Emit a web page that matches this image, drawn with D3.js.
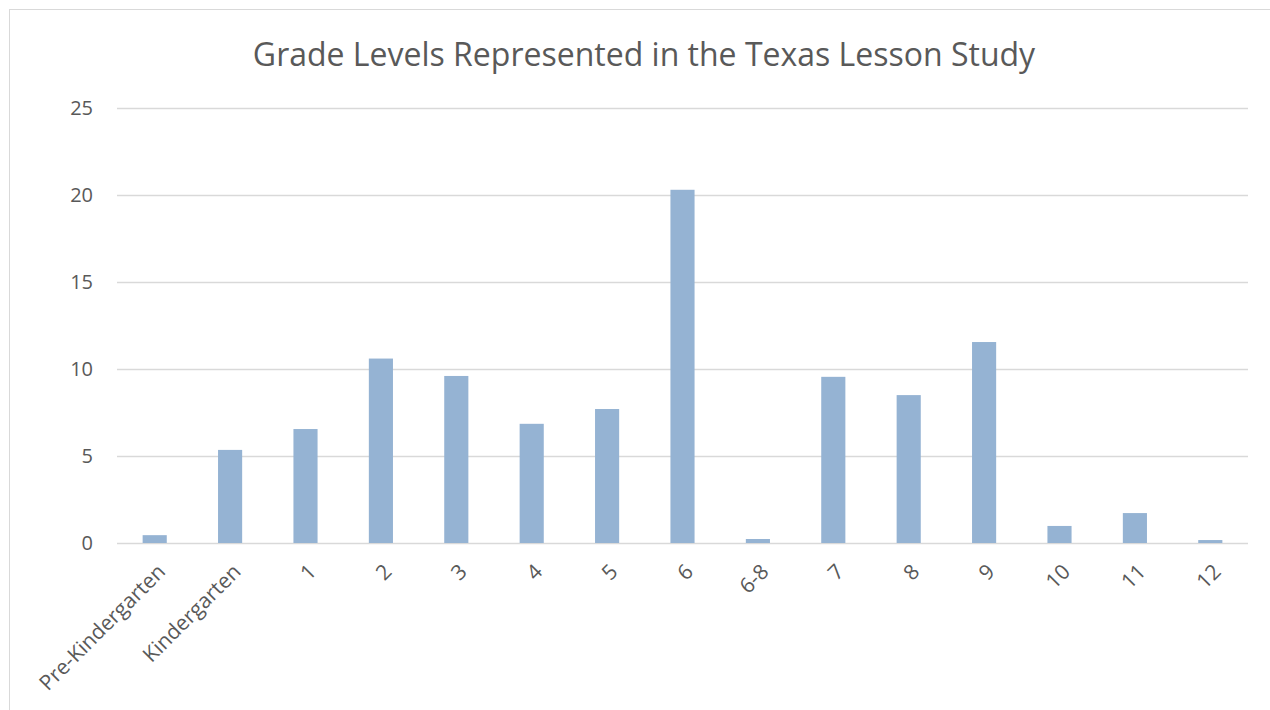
<!DOCTYPE html>
<html>
<head>
<meta charset="utf-8">
<script src="https://cdn.jsdelivr.net/npm/d3@7"></script>
<style>
  body { margin: 0; background: #fff; }
  text { font-family: "Open Sans", "Noto Sans", sans-serif; fill: #595959; }
</style>
</head>
<body>
<script>
var grades = ['Pre-Kindergarten', 'Kindergarten', '1', '2', '3', '4', '5', '6', '6-8', '7', '8', '9', '10', '11', '12'];
var counts = [0.45, 5.35, 6.55, 10.6, 9.6, 6.85, 7.7, 20.3, 0.23, 9.55, 8.5, 11.55, 0.98, 1.72, 0.17];
var yTicks = [0, 5, 10, 15, 20, 25];

var width = 1270, height = 710;
var margin = {top: 108, right: 22, bottom: 167, left: 117};

var svg = d3.select('body').append('svg')
    .attr('width', width)
    .attr('height', height);

// chart frame
svg.append('rect')
    .attr('x', 9.5).attr('y', 9.5)
    .attr('width', 1300).attr('height', 800)
    .attr('fill', 'none')
    .attr('stroke', '#d9d9d9')
    .attr('stroke-width', 1);

var x = d3.scaleBand()
    .domain(grades)
    .range([margin.left, width - margin.right])
    .paddingInner(0.68)
    .paddingOuter(0.34);

var y = d3.scaleLinear()
    .domain([0, 25])
    .range([height - margin.bottom, margin.top]);

// gridlines
svg.append('g')
    .attr('class', 'grid')
    .selectAll('line')
    .data(yTicks)
    .enter().append('line')
    .attr('x1', margin.left)
    .attr('x2', width - margin.right)
    .attr('y1', function(d) { return y(d) + 0.5; })
    .attr('y2', function(d) { return y(d) + 0.5; })
    .attr('stroke', '#d9d9d9')
    .attr('stroke-width', 1.3);

// y axis labels
var yAxis = d3.axisLeft(y).tickValues(yTicks).tickSize(0).tickPadding(24);
svg.append('g')
    .attr('transform', 'translate(' + margin.left + ',0)')
    .call(yAxis)
    .call(function(g) { g.select('.domain').remove(); })
    .selectAll('text')
    .style('font-size', '20px')
    .style('font-family', '"Open Sans", sans-serif')
    .attr('fill', '#595959');

// bars
svg.append('g')
    .selectAll('rect')
    .data(counts)
    .enter().append('rect')
    .attr('x', function(d, i) { return x(grades[i]); })
    .attr('y', function(d) { return y(d); })
    .attr('width', x.bandwidth())
    .attr('height', function(d) { return y(0) - y(d); })
    .attr('fill', '#95b3d3');

// x axis labels
var xAxis = d3.axisBottom(x).tickSize(0).tickPadding(0);
var xg = svg.append('g')
    .attr('transform', 'translate(0,' + y(0) + ')')
    .call(xAxis);
xg.select('.domain').remove();
xg.selectAll('text')
    .style('font-size', '21px')
    .style('font-family', '"Open Sans", sans-serif')
    .attr('fill', '#595959')
    .attr('text-anchor', 'end')
    .attr('dy', null)
    .attr('y', 0)
    .attr('transform', 'translate(12,30) rotate(-45)');

// title
svg.append('text')
    .attr('x', 644)
    .attr('y', 66)
    .attr('text-anchor', 'middle')
    .style('font-size', '32px')
    .text('Grade Levels Represented in the Texas Lesson Study');
</script>
</body>
</html>
